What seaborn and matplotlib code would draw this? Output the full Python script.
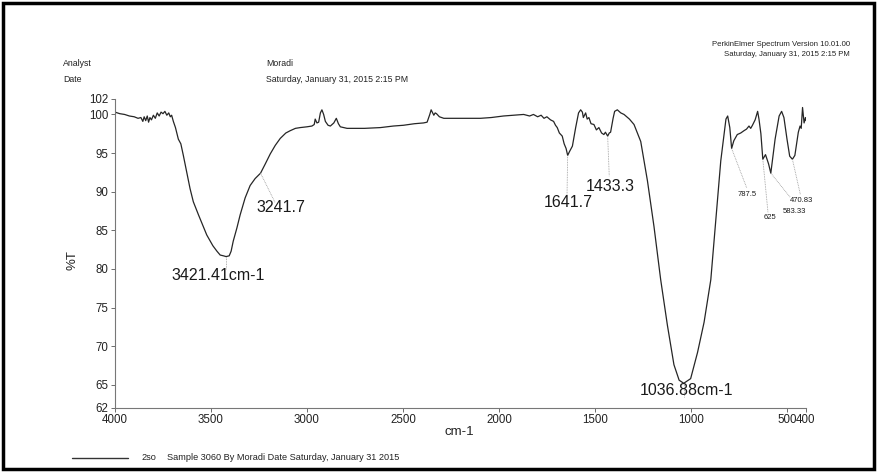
import numpy as np
import pandas as pd
import matplotlib
matplotlib.use("Agg")
import matplotlib.pyplot as plt
from matplotlib.patches import Rectangle
import seaborn as sns

# FT-IR spectrum: wavenumber (cm-1) and transmittance (%T)
wavenumber = [
    4000, 3975, 3950, 3925, 3900, 3880, 3865, 3855, 3848, 3840, 3832, 3825, 3818, 3810,
    3800, 3790, 3780, 3770, 3760, 3750, 3740, 3730, 3720, 3712, 3705, 3696, 3685, 3670,
    3657, 3644, 3626, 3609, 3592, 3565, 3522, 3490, 3469, 3452, 3435, 3421.41, 3405, 3395,
    3384, 3365, 3348, 3322, 3296, 3270, 3241.7, 3217, 3191, 3165, 3139, 3110, 3087, 3060,
    3035, 3000, 2974, 2962, 2957, 2948, 2939, 2930, 2922, 2913, 2904, 2890, 2878, 2860,
    2847, 2836, 2826, 2791, 2700, 2617, 2550, 2497, 2440, 2393, 2374, 2360, 2353, 2345,
    2339, 2332, 2325, 2310, 2287, 2200, 2096, 2040, 1976, 1920, 1871, 1840, 1820, 1798,
    1780, 1765, 1750, 1731, 1715, 1705, 1696, 1685, 1670, 1660, 1650, 1641.7, 1632, 1617,
    1600, 1585, 1574, 1565, 1560, 1548, 1540, 1531, 1520, 1505, 1492, 1479, 1465, 1453,
    1445, 1433.3, 1425, 1418, 1405, 1397, 1383, 1365, 1348, 1320, 1296, 1261, 1226, 1192,
    1157, 1122, 1088, 1061, 1036.88, 1001, 965, 931, 896, 870, 844, 817, 808, 797, 787.5,
    776, 758, 740, 723, 710, 697, 688, 679, 665, 652, 645, 635, 625, 611, 595, 583.33,
    561, 540, 527, 515, 499, 485, 470.83, 458, 440, 431, 425, 418, 410, 403, 400,
]
transmittance = [
    100.3, 100.1, 100.0, 99.8, 99.7, 99.5, 99.6, 99.1, 99.7, 99.2, 99.8, 99.0, 99.6, 99.3,
    99.9, 99.5, 100.2, 99.8, 100.3, 100.1, 100.4, 99.9, 100.2, 99.7, 99.9, 99.1, 98.3, 96.8,
    96.2, 94.7, 92.5, 90.4, 88.7, 87.0, 84.4, 83.0, 82.3, 81.8, 81.7, 81.6, 81.7, 82.3,
    83.6, 85.3, 87.0, 89.2, 90.8, 91.7, 92.4, 93.6, 94.9, 96.0, 96.9, 97.6, 97.9, 98.2,
    98.3, 98.4, 98.5, 98.7, 99.4, 98.9, 99.0, 100.2, 100.6, 100.0, 99.1, 98.6, 98.5, 98.9,
    99.5, 98.8, 98.4, 98.2, 98.2, 98.3, 98.5, 98.6, 98.8, 98.9, 99.0, 100.0, 100.6, 100.2,
    99.9, 100.2, 100.1, 99.7, 99.5, 99.5, 99.5, 99.6, 99.8, 99.9, 100.0, 99.8, 100.0, 99.7,
    99.9, 99.5, 99.7, 99.3, 99.1, 98.6, 98.3, 97.6, 97.2, 96.2, 95.6, 94.7, 95.2, 95.9,
    98.3, 100.2, 100.6, 100.3, 99.6, 100.2, 99.4, 99.6, 98.8, 98.7, 98.0, 98.3, 97.6, 97.4,
    97.7, 97.2, 97.6, 97.7, 99.5, 100.4, 100.6, 100.2, 100.0, 99.4, 98.7, 96.5, 91.4, 85.5,
    78.6, 72.7, 67.6, 65.6, 65.2, 65.8, 69.2, 73.1, 78.6, 86.3, 94.0, 99.4, 99.8, 98.3, 95.6,
    96.6, 97.4, 97.6, 97.9, 98.1, 98.5, 98.2, 98.6, 99.3, 100.4, 99.4, 97.5, 94.2, 94.8, 93.6, 92.4,
    96.8, 99.8, 100.4, 99.6, 96.8, 94.6, 94.2, 94.7, 97.7, 98.5, 98.2, 100.9, 98.9, 99.6, 99.2,
]

# Axis ticks
x_ticks = [4000, 3500, 3000, 2500, 2000, 1500, 1000, 500, 400]
y_ticks = [62, 65, 70, 75, 80, 85, 90, 95, 100, 102]

# Labelled band positions (cm-1) and their label text
peak_positions = [3421.41, 3241.7, 1641.7, 1433.3, 1036.88, 787.5, 625, 583.33, 470.83]
peak_labels = ["3421.41cm-1", "3241.7", "1641.7", "1433.3", "1036.88cm-1",
               "787.5", "625", "583.33", "470.83"]

spectrum = pd.DataFrame({"cm-1": wavenumber, "%T": transmittance})

sns.set_theme(style="ticks")
plt.rcParams["font.family"] = ["Liberation Sans", "DejaVu Sans"]

W, H = 877, 472
fig = plt.figure(figsize=(W / 100, H / 100), dpi=100)
fig.patch.set_facecolor("white")

ax = fig.add_axes([115 / W, 1 - 408 / H, (806 - 115) / W, (408 - 99) / H])
sns.lineplot(data=spectrum, x="cm-1", y="%T", sort=False, estimator=None,
             color="#262626", linewidth=0.9, ax=ax)

ax.set_xlim(4000, 400)
ax.set_ylim(62, 102)
ax.set_xticks(x_ticks)
ax.set_xticklabels([str(v) for v in x_ticks])
ax.set_yticks(y_ticks)
ax.set_yticklabels([str(v) for v in y_ticks])
ax.tick_params(axis="both", direction="out", length=3, width=0.6, color="#555555",
               labelsize=8.3, labelcolor="#222222", pad=1.5)
for s in ["top", "right"]:
    ax.spines[s].set_visible(False)
for s in ["left", "bottom"]:
    ax.spines[s].set_color("#777777")
    ax.spines[s].set_linewidth(0.8)
ax.set_xlabel("")
ax.set_ylabel("")

# Axis titles
fig.text(459 / W, 1 - 432 / H, "cm-1", ha="center", va="center", fontsize=9.5, color="#222222")
fig.text(73 / W, 1 - 260 / H, "%T", ha="center", va="center", rotation=90,
         fontsize=9.5, color="#222222")

# Band labels with dotted leader lines: text anchor and leader end in data units
label_style = {
    "3421.41cm-1": dict(text=(3705, 79.1), ha="left", size=11.5, lead=(3421.41, 80.0)),
    "3241.7": dict(text=(3262, 87.9), ha="left", size=11.5, lead=(3166, 88.6)),
    "1641.7": dict(text=(1638, 88.6), ha="center", size=11.5, lead=(1645, 89.6)),
    "1433.3": dict(text=(1418, 90.7), ha="center", size=11.5, lead=(1425, 92.0)),
    "1036.88cm-1": dict(text=(1025, 64.3), ha="center", size=11.5, lead=(1036.88, 63.4)),
    "787.5": dict(text=(707, 89.7), ha="center", size=5.5, lead=(709, 90.5)),
    "625": dict(text=(587, 86.6), ha="center", size=5.5, lead=(598, 87.3)),
    "583.33": dict(text=(460, 87.4), ha="center", size=5.5, lead=(483, 89.3)),
    "470.83": dict(text=(423, 88.9), ha="center", size=5.5, lead=(429, 89.6)),
}
wn_sorted = np.array(wavenumber)[::-1]
t_sorted = np.array(transmittance)[::-1]
for pos, lab in zip(peak_positions, peak_labels):
    st = label_style[lab]
    t_peak = float(np.interp(pos, wn_sorted, t_sorted))
    lx, ly = st["lead"]
    ax.plot([pos, lx], [t_peak, ly], color="#9a9a9a", linewidth=0.6,
            linestyle=(0, (1, 1)), clip_on=False)
    ax.text(st["text"][0], st["text"][1], lab, ha=st["ha"], va="center",
            fontsize=st["size"], color="#1a1a1a", clip_on=False)

# Header block
hdr = dict(fontsize=6.3, color="#222222", va="center")
fig.text(63 / W, 1 - 64 / H, "Analyst", ha="left", **hdr)
fig.text(63 / W, 1 - 79 / H, "Date", ha="left", **hdr)
fig.text(266 / W, 1 - 64 / H, "Moradi", ha="left", **hdr)
fig.text(266 / W, 1 - 79 / H, "Saturday, January 31, 2015 2:15 PM", ha="left", **hdr)
fig.text(850 / W, 1 - 45 / H, "PerkinElmer Spectrum Version 10.01.00", ha="right",
         fontsize=5.6, color="#222222", va="center")
fig.text(850 / W, 1 - 55 / H, "Saturday, January 31, 2015 2:15 PM", ha="right",
         fontsize=5.6, color="#222222", va="center")

# Legend line and sample description
fig.add_artist(plt.Line2D([72 / W, 128 / W], [1 - 458 / H, 1 - 458 / H],
                          color="#333333", linewidth=1.0))
fig.text(141 / W, 1 - 458 / H, "2so", ha="left", va="center", fontsize=6.6, color="#222222")
fig.text(167 / W, 1 - 458 / H, "Sample 3060 By Moradi Date Saturday, January 31 2015",
         ha="left", va="center", fontsize=6.6, color="#222222")

# Page frame
fig.add_artist(Rectangle((3 / W, 3 / H), 1 - 6 / W, 1 - 6 / H, transform=fig.transFigure,
                         fill=False, edgecolor="black", linewidth=2.5))

fig.savefig("out.png", dpi=100, facecolor="white")
